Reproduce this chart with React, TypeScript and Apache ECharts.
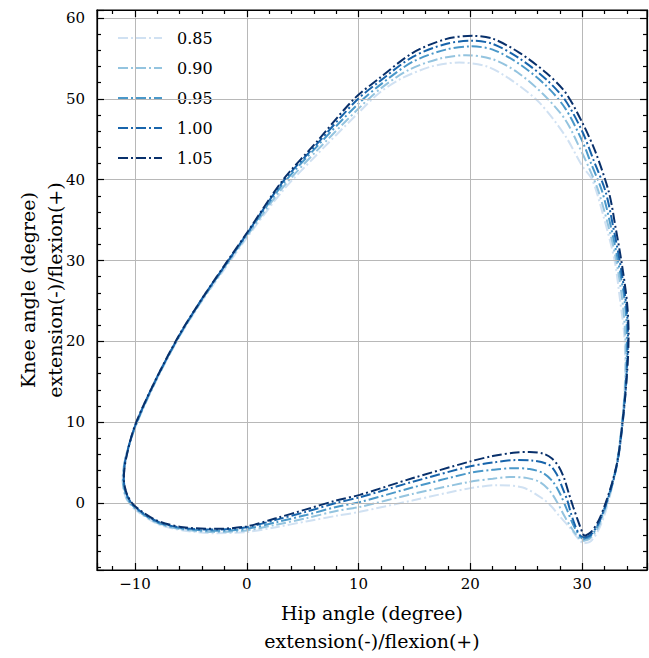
import React, { useEffect, useRef } from "react";
import * as echarts from "echarts";

const seriesNames = ["0.85", "0.90", "0.95", "1.00", "1.05"];
const seriesColors = ["#d0e1f2", "#94c4df", "#4a98c9", "#1764ab", "#08306b"];

// hip angle (x), knee angle (y) — one gait cycle loop per speed factor
const loop085: number[][] = [
  [30.2, -5.0], [30.8, -4.7], [31.4, -3.5], [32.0, -1.5], [32.6, 1.5], [33.1, 4.8], [33.5, 8.8], [33.75, 13], [33.85, 17], [33.75, 21], [33.4, 25], [32.9, 30], [32.0, 35], [30.9, 40], [30.0, 41.7], [28.5, 45.4], [26.2, 49.5], [23.8, 52.2], [21.5, 54.0], [19.0, 54.5], [16.5, 54.0], [13.8, 52.5], [11.9, 50.8], [10.0, 48.3], [6.2, 43.0], [3.2, 38.6], [0, 32.8], [-1.8, 29.3], [-3.9, 25.2], [-6.0, 20.6], [-8.2, 14.9], [-10.0, 9.3], [-10.9, 5.3], [-11.1, 2.8], [-10.8, 0.6], [-10.0, -0.8], [-8.0, -2.6], [-5.7, -3.4], [-2.7, -3.75], [0, -3.6], [2.6, -3.0], [5.3, -2.3], [8.0, -1.6], [10.1, -1.1], [14.8, 0.3], [19.9, 1.8], [22.5, 2.2], [24.7, 1.9], [26.5, 0.5], [27.3, -0.5], [27.95, -1.6], [28.8, -2.9], [29.4, -4.0], [29.9, -4.8], [30.2, -5.0],
];
const loop090: number[][] = [
  [30.1, -4.7], [30.7, -4.4], [31.4, -3.1], [32.0, -1.0], [32.6, 1.7], [33.1, 4.9], [33.5, 9.1], [33.8, 13.5], [33.9, 17.5], [33.85, 21], [33.6, 25], [33.05, 30], [32.3, 34.5], [31.4, 38.8], [30.6, 41.5], [30.0, 43.3], [28.5, 47.4], [26.5, 50.6], [24.2, 53.3], [22.0, 54.9], [19.6, 55.4], [17.3, 55.0], [14.5, 53.6], [11.9, 51.2], [10.0, 48.8], [6.2, 43.5], [3.2, 39.0], [0, 33.0], [-1.8, 29.5], [-3.9, 25.3], [-6.0, 20.7], [-8.2, 14.9], [-10.0, 9.3], [-10.9, 5.3], [-11.1, 2.8], [-10.8, 0.7], [-10.0, -0.7], [-8.0, -2.5], [-5.7, -3.3], [-2.7, -3.6], [0, -3.4], [2.6, -2.7], [5.3, -1.9], [8.0, -1.0], [10.1, -0.5], [14.8, 1.1], [19.9, 2.6], [22.0, 3.0], [23.5, 3.2], [25.0, 3.1], [26.2, 2.6], [27.1, 1.5], [27.8, 0.0], [28.4, -1.6], [29.0, -3.0], [29.5, -4.0], [29.9, -4.6], [30.1, -4.7],
];
const loop095: number[][] = [
  [30.1, -4.5], [30.7, -4.2], [31.4, -2.8], [32.0, -0.7], [32.6, 2.0], [33.15, 5.1], [33.55, 9.4], [33.85, 14], [34.0, 18], [34.0, 21], [33.8, 25], [33.2, 30], [32.6, 34], [31.8, 38.5], [30.8, 42], [30.0, 44.8], [28.5, 48.8], [26.8, 51.6], [24.4, 54.3], [22.0, 56.1], [20.0, 56.5], [17.8, 56.1], [14.85, 54.6], [11.9, 51.7], [9.9, 49.3], [6.2, 44.0], [3.2, 39.4], [0, 33.2], [-1.8, 29.6], [-3.9, 25.4], [-6.0, 20.8], [-8.2, 15.0], [-10.0, 9.4], [-10.85, 5.3], [-11.05, 2.9], [-10.75, 0.8], [-10.0, -0.6], [-8.0, -2.4], [-5.7, -3.2], [-2.7, -3.45], [0, -3.2], [2.6, -2.4], [5.3, -1.5], [8.0, -0.5], [10.1, 0.1], [14.8, 1.9], [19.9, 3.7], [22.0, 4.1], [23.8, 4.3], [25.3, 4.2], [26.5, 3.7], [27.4, 2.6], [28.0, 1.2], [28.6, -0.7], [29.1, -2.4], [29.5, -3.5], [29.9, -4.3], [30.1, -4.5],
];
const loop100: number[][] = [
  [30.2, -4.3], [30.8, -3.9], [31.5, -2.4], [32.1, -0.3], [32.7, 2.3], [33.2, 5.3], [33.6, 9.6], [33.9, 14], [34.05, 18], [34.1, 21], [33.9, 25], [33.35, 30], [32.8, 34], [32.1, 38.5], [31.0, 42.5], [30.0, 46.0], [28.5, 49.8], [26.8, 52.4], [24.4, 55.0], [22.0, 56.8], [20.2, 57.2], [17.8, 56.8], [14.85, 55.2], [11.9, 52.2], [9.8, 49.8], [6.2, 44.3], [3.2, 39.7], [0, 33.3], [-1.8, 29.7], [-3.9, 25.5], [-6.0, 20.8], [-8.2, 15.1], [-10.0, 9.5], [-10.85, 5.4], [-11.0, 2.9], [-10.7, 0.9], [-10.0, -0.5], [-8.0, -2.3], [-5.7, -3.1], [-2.7, -3.3], [0, -3.0], [2.6, -2.1], [5.3, -1.1], [8.0, 0.0], [10.1, 0.7], [14.8, 2.6], [19.9, 4.5], [22.0, 5.0], [24.0, 5.3], [25.5, 5.25], [27.05, 4.7], [27.7, 3.6], [28.2, 2.0], [28.7, 0.2], [29.0, -1.3], [29.4, -2.9], [29.8, -4.0], [30.2, -4.3],
];
const loop105: number[][] = [
  [30.2, -4.1], [30.8, -3.6], [31.5, -2.1], [32.1, 0], [32.7, 2.6], [33.2, 5.5], [33.6, 9.8], [33.9, 14], [34.1, 18], [34.15, 21], [34.0, 25], [33.5, 30], [33.0, 34], [32.4, 38.4], [31.2, 43.4], [30.0, 47.1], [28.5, 50.8], [26.8, 53.2], [24.4, 55.7], [22.0, 57.45], [20.2, 57.8], [17.8, 57.4], [14.85, 55.7], [11.9, 52.6], [9.6, 50.0], [6.2, 44.6], [3.2, 39.9], [0, 33.4], [-1.8, 29.8], [-3.9, 25.5], [-6.0, 20.9], [-8.2, 15.1], [-10.0, 9.6], [-10.8, 5.5], [-11.0, 3.0], [-10.7, 1.0], [-10.0, -0.4], [-8.0, -2.2], [-5.7, -3.0], [-2.7, -3.2], [0, -2.9], [2.6, -1.9], [5.3, -0.8], [8.0, 0.3], [10.1, 1.0], [14.8, 3.05], [19.9, 5.1], [22.0, 5.8], [24.1, 6.25], [25.3, 6.3], [26.5, 6.1], [27.3, 5.5], [27.9, 4.5], [28.4, 3.0], [28.8, 1.2], [29.2, -0.5], [29.6, -2.1], [30.0, -3.6], [30.2, -4.1],
];
const loops = [loop085, loop090, loop095, loop100, loop105];

const xTitle = "Hip angle (degree)\nextension(-)/flexion(+)";
const yTitle = "Knee angle (degree)\nextension(-)/flexion(+)";

export default function App() {
  const ref = useRef<HTMLDivElement>(null);
  useEffect(() => {
    const chart = echarts.init(ref.current!, null, { renderer: "svg" });
    const font = "DejaVu Serif";
    const fmt = (v: number) => (v < 0 ? "\u2212" + Math.abs(v) : String(v));
    const tickStyle = { color: "#000", width: 1.2 };
    const mkX = (pos: string, main: boolean) => ({
      type: "value",
      gridIndex: 0,
      position: pos,
      min: -13.4,
      max: 35.8,
      splitNumber: 5,
      z: 5,
      axisLine: { show: true, onZero: false, lineStyle: { color: "#000", width: 1.2 } },
      axisTick: { show: true, inside: true, length: 7, lineStyle: { ...tickStyle } },
      minorTick: { show: true, splitNumber: 5, length: 4, lineStyle: { ...tickStyle } },
      axisLabel: {
        show: main,
        formatter: fmt,
        showMinLabel: false,
        showMaxLabel: false,
        fontFamily: font,
        fontSize: 15,
        color: "#000",
        margin: 6,
      },
      splitLine: { show: main, lineStyle: { color: "#b8b8b8", width: 1 } },
      name: main ? xTitle : "",
      nameLocation: "middle",
      nameGap: 29,
      nameTextStyle: { fontFamily: font, fontSize: 19, lineHeight: 28, color: "#000" },
    });
    const mkY = (pos: string, main: boolean) => ({
      type: "value",
      gridIndex: 0,
      position: pos,
      min: -8.3,
      max: 61,
      splitNumber: 7,
      z: 5,
      axisLine: { show: true, onZero: false, lineStyle: { color: "#000", width: 1.2 } },
      axisTick: { show: true, inside: true, length: 7, lineStyle: { ...tickStyle } },
      minorTick: { show: true, splitNumber: 5, length: 4, lineStyle: { ...tickStyle } },
      axisLabel: {
        show: main,
        formatter: fmt,
        showMinLabel: false,
        showMaxLabel: false,
        fontFamily: font,
        fontSize: 15,
        color: "#000",
        margin: 12,
      },
      splitLine: { show: main, lineStyle: { color: "#b8b8b8", width: 1 } },
      name: main ? yTitle : "",
      nameLocation: "middle",
      nameRotate: 90,
      nameGap: 29,
      nameMoveOverlap: false,
      nameTextStyle: { fontFamily: font, fontSize: 19, lineHeight: 27, color: "#000" },
    });
    chart.setOption({
      animation: false,
      backgroundColor: "#fff",
      grid: {
        left: 97,
        right: 2,
        top: 10,
        bottom: 88,
        show: true,
        borderColor: "#000",
        borderWidth: 1.2,
        backgroundColor: "transparent",
        outerBoundsMode: "none",
        containLabel: false,
      },
      xAxis: [mkX("bottom", true), mkX("top", false)],
      yAxis: [mkY("left", true), mkY("right", false)],
      legend: {
        data: seriesNames,
        orient: "vertical",
        left: 112,
        top: 25,
        itemWidth: 44,
        itemHeight: 12,
        itemGap: 14,
        itemStyle: { opacity: 0 },
        textStyle: { fontFamily: font, fontSize: 16, color: "#000", padding: [0, 0, 0, 10] },
      },
      series: loops.map((d, i) => ({
        name: seriesNames[i],
        type: "line",
        data: d,
        xAxisIndex: 0,
        yAxisIndex: 0,
        symbol: "none",
        showSymbol: false,
        smooth: 0.3,
        color: seriesColors[i],
        lineStyle: { color: seriesColors[i], width: 2, type: [10, 3, 2, 3] },
        z: 2 + i,
      })),
    });
    return () => chart.dispose();
  }, []);
  return (
    <div
      ref={ref}
      style={{ position: "absolute", left: 0, top: 0, width: 649, height: 658, background: "#fff" }}
    />
  );
}
